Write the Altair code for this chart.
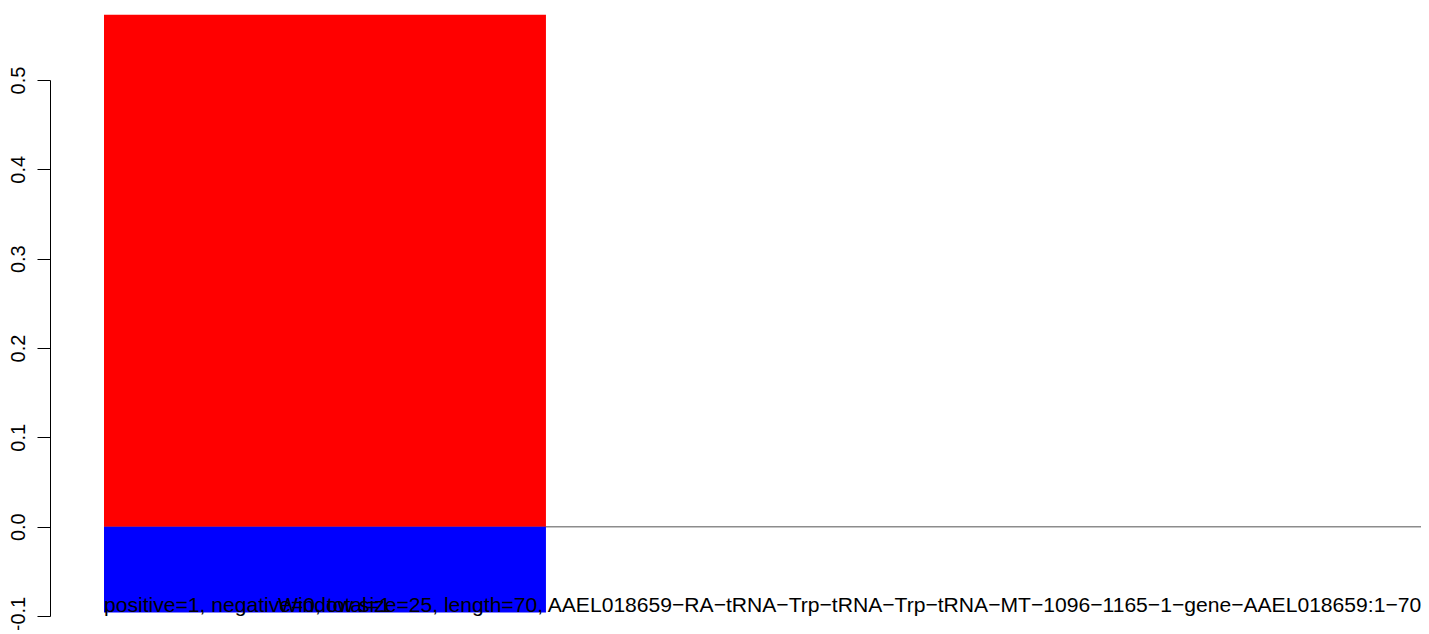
import altair as alt
import pandas as pd

# --- data ---
kinds = ["positive", "negative"]
bar_start = [0, 0]
bar_end = [1, 1]
fractions = [0.573, -0.096]
bar_colors = ["#FF0000", "#0000FF"]

baseline_x = [0, 2.98]
baseline_y = [0]

y_ticks = [-0.1, 0.0, 0.1, 0.2, 0.3, 0.4, 0.5]

count_text = "positive=1, negative=0, total=1"
title_text = ("Window size=25, length=70, AAEL018659\u2212RA\u2212tRNA\u2212Trp\u2212tRNA\u2212Trp\u2212tRNA"
              "\u2212MT\u22121096\u22121165\u22121\u2212gene\u2212AAEL018659:1\u221270")

FONT = "Liberation Sans"

bars_df = pd.DataFrame({"kind": kinds, "x0": bar_start, "x1": bar_end,
                        "y0": [0, 0], "y1": fractions})
line_df = pd.DataFrame({"x0": [baseline_x[0]], "x1": [baseline_x[1]], "y": baseline_y})

xscale = alt.Scale(domain=[0, 2.98], nice=False, zero=False)
yscale = alt.Scale(domain=[-0.1, 0.5], nice=False, zero=False)

line = alt.Chart(line_df).mark_rule(color="#8c8c8c", strokeWidth=1.5).encode(
    x=alt.X("x0:Q", scale=xscale, axis=None),
    x2="x1:Q",
    y=alt.Y("y:Q", scale=yscale,
            axis=alt.Axis(values=y_ticks, format=".1f", title=None, grid=False,
                          offset=54, tickSize=13, tickColor="black", tickWidth=1,
                          domainColor="black", domainWidth=1,
                          labelAngle=-90, labelAlign="center", labelBaseline="alphabetic",
                          labelPadding=13, labelFont=FONT, labelFontSize=20,
                          labelColor="black", labelOverlap=False, labelFlush=False)),
)

bars = alt.Chart(bars_df).mark_rect().encode(
    x=alt.X("x0:Q", scale=xscale, axis=None),
    x2="x1:Q",
    y=alt.Y("y0:Q", scale=yscale),
    y2="y1:Q",
    color=alt.Color("kind:N", scale=alt.Scale(domain=kinds, range=bar_colors), legend=None),
)

txt1 = alt.Chart(pd.DataFrame({"t": [count_text]})).mark_text(
    font=FONT, fontSize=21.1, color="black", align="left", baseline="alphabetic"
).encode(text="t:N", x=alt.value(0), y=alt.value(532))

txt2 = alt.Chart(pd.DataFrame({"t": [title_text]})).mark_text(
    font=FONT, fontSize=21.1, color="black", align="left", baseline="alphabetic"
).encode(text="t:N", x=alt.value(174), y=alt.value(532))

chart = alt.layer(line, bars, txt1, txt2).properties(
    width=1317, height=536,
    autosize=alt.AutoSizeParams(type="none"),
    padding={"left": 96, "top": 72, "right": 0, "bottom": 14},
).configure(background="white", view=alt.ViewConfig(stroke=None))

chart.save("out.html", embed_options={"renderer": "svg", "actions": False})
